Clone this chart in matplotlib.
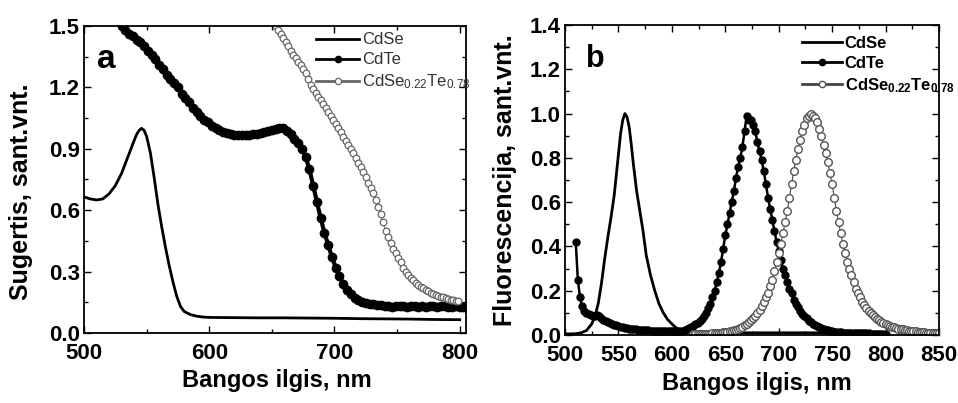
import matplotlib
matplotlib.use("Agg")
import matplotlib.pyplot as plt
from matplotlib.ticker import MultipleLocator

plt.rcParams['font.family'] = ['Liberation Sans', 'DejaVu Sans']
plt.rcParams['mathtext.fontset'] = 'custom'
plt.rcParams['mathtext.rm'] = 'Liberation Sans'
plt.rcParams['mathtext.it'] = 'Liberation Sans'
plt.rcParams['mathtext.bf'] = 'Liberation Sans:bold'

# ---- panel a: absorption ----
a_cdse_x = [500, 505, 510, 515, 520, 525, 530, 535, 540, 542, 544, 546, 548, 550, 553, 556, 559,
            562, 565, 568, 571, 574, 577, 580, 585, 590, 595, 600, 620, 640, 660, 680, 700, 720,
            740, 760, 780, 800]
a_cdse_y = [0.665, 0.655, 0.65, 0.655, 0.68, 0.72, 0.78, 0.86, 0.94, 0.97, 0.99, 1.0, 0.99, 0.96,
            0.88, 0.76, 0.63, 0.52, 0.42, 0.33, 0.25, 0.18, 0.13, 0.105, 0.09, 0.082, 0.078,
            0.076, 0.075, 0.074, 0.074, 0.073, 0.072, 0.07, 0.069, 0.068, 0.066, 0.065]

a_cdte_x = list(range(530, 804, 3))
a_cdte_y = [1.50, 1.48, 1.46, 1.45, 1.43, 1.42, 1.40, 1.38, 1.36, 1.34,
            1.31, 1.29, 1.26, 1.24, 1.22, 1.20, 1.17, 1.15, 1.13, 1.10,
            1.08, 1.06, 1.04, 1.03, 1.01, 1.00, 0.99, 0.98, 0.975, 0.97,
            0.965, 0.965, 0.965, 0.965, 0.965, 0.97, 0.97, 0.975, 0.98, 0.985,
            0.99, 0.995, 1.0, 1.0, 0.985, 0.97, 0.95, 0.93, 0.90, 0.86,
            0.80, 0.72, 0.64, 0.56, 0.49, 0.43, 0.37, 0.32, 0.28, 0.24,
            0.21, 0.19, 0.17, 0.16, 0.15, 0.145, 0.14, 0.14, 0.135, 0.135,
            0.13, 0.132, 0.128, 0.13, 0.133, 0.13, 0.127, 0.13, 0.132, 0.129,
            0.13, 0.128, 0.131, 0.13, 0.127, 0.13, 0.132, 0.128, 0.125, 0.13,
            0.128, 0.125]

a_mix_x = list(range(653, 800, 2))
a_mix_y = [1.50, 1.48, 1.46, 1.44, 1.42, 1.40, 1.38, 1.36, 1.345, 1.325,   # 653
           1.31, 1.29, 1.27, 1.24, 1.21, 1.19, 1.175, 1.155, 1.14, 1.12,   # 673
           1.10, 1.08, 1.06, 1.04, 1.02, 1.00, 0.98, 0.96, 0.94, 0.92,     # 693
           0.90, 0.88, 0.855, 0.83, 0.81, 0.785, 0.76, 0.735, 0.71, 0.685, # 713
           0.65, 0.615, 0.58, 0.54, 0.50, 0.47, 0.44, 0.41, 0.39, 0.365,   # 733
           0.345, 0.32, 0.30, 0.285, 0.27, 0.258, 0.246, 0.236, 0.227, 0.218,
           0.21, 0.203, 0.197, 0.192, 0.187, 0.182, 0.178, 0.174, 0.17, 0.166,
           0.163, 0.16, 0.157, 0.154]

# ---- panel b: fluorescence ----
b_cdse_x = [500, 505, 510, 515, 520, 525, 528, 531, 534, 537, 540, 543, 546, 549, 552, 554, 556,
            558, 560, 562, 564, 567, 570, 573, 576, 580, 584, 588, 592, 596, 600, 605, 610, 620,
            640, 660, 680, 700, 720, 740, 760, 780, 800]
b_cdse_y = [0.005, 0.005, 0.006, 0.01, 0.02, 0.05, 0.085, 0.14, 0.23, 0.34, 0.44, 0.53, 0.63,
            0.77, 0.91, 0.97, 1.0, 0.985, 0.94, 0.86, 0.77, 0.65, 0.56, 0.47, 0.36, 0.27, 0.20,
            0.14, 0.10, 0.07, 0.05, 0.028, 0.018, 0.012, 0.01, 0.01, 0.01, 0.01, 0.01, 0.01,
            0.01, 0.01, 0.01]

b_cdte_x = list(range(510, 801, 2))
b_cdte_y = [0.42, 0.25, 0.17, 0.13, 0.11, 0.10, 0.095, 0.09, 0.085, 0.088,      # 510
            0.09, 0.085, 0.075, 0.068, 0.062, 0.057, 0.053, 0.05, 0.046, 0.043,  # 530
            0.04, 0.038, 0.035, 0.032, 0.03, 0.028, 0.027, 0.026, 0.025, 0.024,  # 550
            0.024, 0.023, 0.022, 0.021, 0.021, 0.02, 0.02, 0.019, 0.018, 0.018,  # 570
            0.017, 0.017, 0.017, 0.016, 0.016, 0.016, 0.016, 0.017, 0.018, 0.019,  # 590
            0.02, 0.023, 0.027, 0.031, 0.036, 0.042, 0.048, 0.055, 0.064, 0.074,  # 610
            0.086, 0.10, 0.12, 0.14, 0.17, 0.20, 0.24, 0.28, 0.33, 0.39,        # 630
            0.45, 0.50, 0.55, 0.60, 0.65, 0.71, 0.76, 0.80, 0.85, 0.92,         # 650
            0.99, 0.97, 0.97, 0.95, 0.92, 0.87, 0.83, 0.79, 0.74, 0.68,         # 670
            0.62, 0.57, 0.52, 0.47, 0.42, 0.38, 0.34, 0.30, 0.27, 0.24,         # 690
            0.21, 0.19, 0.16, 0.14, 0.125, 0.11, 0.095, 0.085, 0.075, 0.065,    # 710
            0.057, 0.05, 0.044, 0.039, 0.034, 0.03, 0.027, 0.024, 0.021, 0.019,
            0.017, 0.015, 0.014, 0.013, 0.012, 0.011, 0.01, 0.01, 0.009, 0.009,
            0.009, 0.008, 0.008, 0.008, 0.007, 0.007, 0.007, 0.007, 0.006, 0.006,
            0.006, 0.006, 0.006, 0.005, 0.005, 0.005]                           # 790

b_mix_x = list(range(620, 851, 2))
b_mix_y = [0.003, 0.003, 0.004, 0.004, 0.004, 0.005, 0.005, 0.006, 0.006, 0.007,  # 620
           0.008, 0.009, 0.010, 0.011, 0.012, 0.013, 0.015, 0.017, 0.019, 0.021,
           0.024, 0.028, 0.032, 0.037, 0.043, 0.05, 0.058, 0.067, 0.077, 0.088,
           0.10, 0.115, 0.13, 0.15, 0.17, 0.19, 0.22, 0.25, 0.29, 0.33,           # 680
           0.37, 0.41, 0.46, 0.51, 0.56, 0.62, 0.68, 0.74, 0.79, 0.84,
           0.88, 0.92, 0.95, 0.98, 0.99, 1.0, 0.99, 0.98, 0.96, 0.93,             # 720
           0.90, 0.86, 0.82, 0.78, 0.73, 0.68, 0.62, 0.56, 0.51, 0.46,
           0.41, 0.37, 0.33, 0.30, 0.27, 0.24, 0.21, 0.19, 0.17, 0.15,            # 760
           0.135, 0.12, 0.11, 0.10, 0.09, 0.08, 0.073, 0.066, 0.06, 0.055,
           0.05, 0.046, 0.042, 0.038, 0.035, 0.032, 0.029, 0.027, 0.025, 0.023,   # 800
           0.021, 0.019, 0.018, 0.017, 0.016, 0.015, 0.014, 0.013, 0.012, 0.011,
           0.011, 0.010, 0.010, 0.009, 0.009, 0.008]                              # 840

labels_a = ['CdSe', 'CdTe', r'CdSe$_{0.22}$Te$_{0.78}$']
labels_b = ['CdSe', 'CdTe', r'CdSe$_{\mathbf{0.22}}$Te$_{\mathbf{0.78}}$']

fig = plt.figure(figsize=(9.58, 4.03), dpi=100)
ax1 = fig.add_axes([0.0877, 0.1737, 0.3987, 0.7618])
ax2 = fig.add_axes([0.5898, 0.1687, 0.3904, 0.7693])

# panel a
ax1.plot(a_cdse_x, a_cdse_y, color='black', lw=2.0, label=labels_a[0])
ax1.plot(a_cdte_x, a_cdte_y, color='black', lw=3.0, marker='o', ms=6,
         mfc='black', mec='black', label=labels_a[1])
ax1.plot(a_mix_x, a_mix_y, color='#666666', lw=0.8, marker='o', ms=4.8,
         mfc='white', mec='#666666', mew=0.9, label=labels_a[2])
ax1.set_xlim(500, 805)
ax1.set_ylim(0, 1.5)
ax1.xaxis.set_major_locator(MultipleLocator(100))
ax1.xaxis.set_minor_locator(MultipleLocator(50))
ax1.yaxis.set_minor_locator(MultipleLocator(0.15))
ax1.set_yticks([0, 0.3, 0.6, 0.9, 1.2, 1.5])
ax1.set_yticklabels(['0.0', '0.3', '0.6', '0.9', '1.2', '1.5'])
ax1.text(0.035, 0.94, 'a', transform=ax1.transAxes, fontsize=24, fontweight='bold',
         va='top', ha='left')
leg1 = ax1.legend(loc='upper right', bbox_to_anchor=(1.02, 0.99), frameon=False,
                  fontsize=12, handlelength=2.6, borderpad=0.2, borderaxespad=0,
                  labelspacing=0.3, handletextpad=0.15)
for t in leg1.get_texts():
    t.set_color('#333333')
for h in leg1.legend_handles:
    h.set_linewidth(2.0)
    h.set_markersize(4.5)

# panel b
ax2.plot(b_cdse_x, b_cdse_y, color='black', lw=2.0, label=labels_b[0])
ax2.plot(b_cdte_x, b_cdte_y, color='black', lw=1.8, marker='o', ms=5,
         mfc='black', mec='black', label=labels_b[1])
ax2.plot(b_mix_x, b_mix_y, color='#444444', lw=0.8, marker='o', ms=5.5,
         mfc='white', mec='#555555', mew=1.0, label=labels_b[2])
ax2.set_xlim(500, 850)
ax2.set_ylim(0, 1.4)
ax2.xaxis.set_major_locator(MultipleLocator(50))
ax2.xaxis.set_minor_locator(MultipleLocator(25))
ax2.yaxis.set_major_locator(MultipleLocator(0.2))
ax2.yaxis.set_minor_locator(MultipleLocator(0.1))
ax2.text(0.055, 0.94, 'b', transform=ax2.transAxes, fontsize=22, fontweight='bold',
         va='top', ha='left')
leg2 = ax2.legend(loc='upper right', bbox_to_anchor=(1.05, 0.975), frameon=False,
                  handlelength=2.4, borderpad=0.2, borderaxespad=0,
                  labelspacing=0.3, handletextpad=0.15,
                  prop={'weight': 'bold', 'size': 12})
for h in leg2.legend_handles:
    h.set_linewidth(2.0)
    h.set_markersize(4.5)

# axis titles
fig.text(0.289, 0.057, 'Bangos ilgis, nm', fontsize=17, fontweight='bold',
         ha='center', va='center')
fig.text(0.790, 0.049, 'Bangos ilgis, nm', fontsize=17, fontweight='bold',
         ha='center', va='center')
fig.text(0.022, 0.524, 'Sugertis, sant.vnt.', fontsize=18, fontweight='bold',
         rotation=90, ha='center', va='center')
fig.text(0.527, 0.553, 'Fluorescencija, sant.vnt.', fontsize=18, fontweight='bold',
         rotation=90, ha='center', va='center')

for ax in (ax1, ax2):
    ax.tick_params(which='both', direction='in', top=True, right=True,
                   labelsize=16, width=1.0)
    ax.tick_params(which='major', length=5)
    ax.tick_params(which='minor', length=3)
    ax.tick_params(axis='x', pad=7)
    ax.tick_params(axis='y', pad=3)
    for lab in ax.get_xticklabels() + ax.get_yticklabels():
        lab.set_fontweight('bold')
    for sp in ax.spines.values():
        sp.set_linewidth(1.3)

fig.savefig('out.png', dpi=100)
